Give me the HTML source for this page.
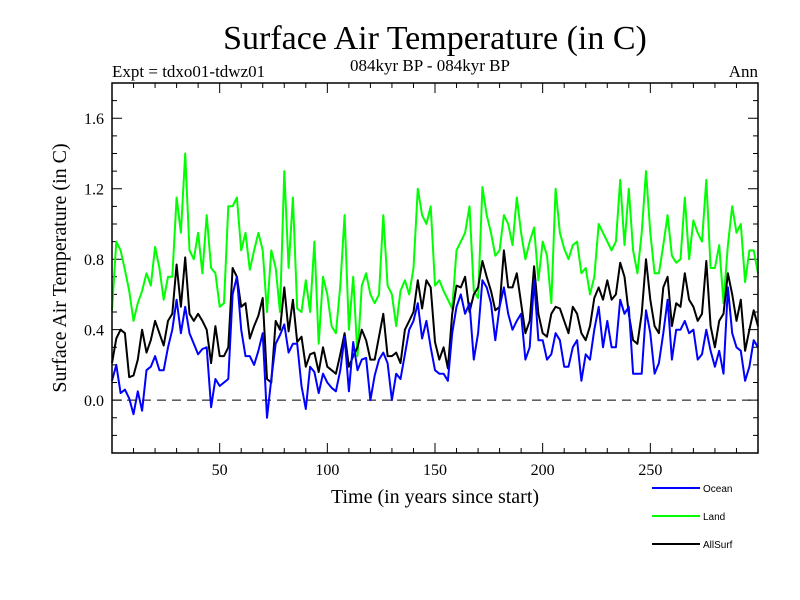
<!DOCTYPE html>
<html><head><meta charset="utf-8"><style>
body{margin:0;background:#fff;}
svg{display:block;}
.serif{font-family:"Liberation Serif",serif;}
.sans{font-family:"Liberation Sans",sans-serif;}
</style></head><body>
<svg id="chart" width="800" height="600" xmlns="http://www.w3.org/2000/svg">
<rect width="800" height="600" fill="#fff"/>
<text class="serif" x="435" y="49" font-size="34" text-anchor="middle">Surface Air Temperature (in C)</text>
<text class="serif" x="112" y="77" font-size="17">Expt = tdxo01-tdwz01</text>
<text class="serif" x="430" y="71" font-size="17" text-anchor="middle">084kyr BP - 084kyr BP</text>
<text class="serif" x="758" y="77" font-size="17" text-anchor="end">Ann</text>
<text class="serif" font-size="20" text-anchor="middle" transform="translate(66,268) rotate(-90)">Surface Air Temperature (in C)</text>
<text class="serif" x="435" y="503" font-size="20" text-anchor="middle">Time (in years since start)</text>
<g id="axes"></g>
<g id="series"></g>
<rect x="112" y="83" width="646" height="370" fill="none" stroke="#000" stroke-width="1.5"/>
<g id="legend"></g>
</svg>
<script>
const years=[];for(let y=0;y<=300;y+=2)years.push(y);
const green=[.51,.90,.85,.74,.62,.45,.55,.62,.72,.65,.87,.75,.57,.70,.70,1.15,.95,1.40,.85,.80,.95,.72,1.05,.75,.72,.53,.55,1.10,1.10,1.15,.85,.95,.74,.85,.95,.85,.50,.85,.75,
.50,1.30,.75,1.15,.52,.50,.68,.50,.90,.32,.70,.60,.42,.38,.65,1.05,.40,.70,.25,.65,.72,.60,.55,.60,1.05,.65,.60,.42,.62,.68,.60,.75,1.20,1.05,1.00,1.10,.65,
.68,.62,.57,.52,.85,.90,.95,1.10,.62,.58,1.21,1.05,.95,.82,.85,1.05,1.00,.88,1.15,.95,.80,.90,.98,.68,.90,.82,.55,1.20,.95,.86,.80,.88,.90,.72,.75,.60,.70,1.00,
.95,.90,.85,.90,1.25,.88,1.20,.85,.72,.95,1.30,.95,.72,.72,.88,1.05,.82,.78,.80,1.15,.80,1.02,.95,.90,1.25,.75,.75,.88,.55,.88,1.10,.95,1.00,.67,.85,.85,.72];
const black=[.21,.35,.40,.38,.13,.14,.23,.40,.27,.34,.45,.38,.31,.45,.49,.77,.53,.81,.49,.45,.49,.45,.40,.21,.42,.25,.25,.30,.75,.70,.53,.55,.35,.42,.48,.58,.12,.10,.45,
.40,.64,.39,.57,.33,.36,.19,.26,.27,.16,.30,.19,.17,.15,.26,.38,.19,.25,.30,.40,.34,.23,.23,.36,.49,.25,.25,.27,.21,.40,.45,.50,.68,.52,.68,.64,.33,
.23,.30,.18,.49,.65,.64,.70,.50,.60,.64,.79,.70,.62,.51,.53,.85,.64,.64,.72,.55,.38,.45,.76,.49,.38,.36,.49,.53,.52,.45,.38,.53,.49,.38,.34,.42,.58,.64,
.57,.68,.57,.60,.78,.70,.49,.34,.32,.49,.80,.57,.42,.38,.64,.70,.42,.55,.53,.72,.57,.53,.45,.49,.79,.42,.30,.45,.49,.72,.60,.45,.57,.28,.40,.51,.42];
const blue=[.11,.20,.04,.06,.01,-.08,.05,-.06,.17,.19,.25,.17,.17,.30,.40,.57,.38,.53,.38,.32,.26,.29,.30,-.04,.12,.08,.10,.12,.60,.70,.40,.25,.25,.20,.28,.38,-.10,.12,.32,
.37,.43,.27,.32,.32,.08,-.05,.19,.16,.04,.15,.10,.07,.05,.17,.36,.05,.33,.17,.23,.24,.00,.14,.23,.27,.21,.00,.15,.12,.26,.40,.45,.55,.35,.45,.30,.17,
.15,.15,.11,.38,.53,.60,.49,.55,.23,.38,.68,.64,.55,.34,.53,.64,.49,.40,.45,.49,.23,.30,.68,.34,.34,.23,.26,.38,.34,.19,.19,.30,.34,.11,.26,.23,.40,.53,
.30,.45,.30,.30,.57,.49,.53,.15,.15,.15,.51,.38,.15,.21,.38,.57,.23,.40,.40,.45,.38,.40,.23,.26,.40,.28,.19,.28,.15,.64,.38,.30,.28,.11,.19,.34,.30];
const xTicks=[50,100,150,200,250];
const yTicks=["0.0","0.4","0.8","1.2","1.6"];
const legendNames=["Ocean","Land","AllSurf"];
const legendColors=["#0000ff","#00ff00","#000000"];

const X0=112,X1=758,Y0=453,Y1=83,XMIN=0,XMAX=300,YMIN=-0.3,YMAX=1.8;
const sx=v=>X0+(v-XMIN)/(XMAX-XMIN)*(X1-X0);
const sy=v=>Y0-(v-YMIN)/(YMAX-YMIN)*(Y0-Y1);
const NS="http://www.w3.org/2000/svg";
function mk(t,a,p){const e=document.createElementNS(NS,t);for(const k in a)e.setAttribute(k,a[k]);p.appendChild(e);return e;}
const axes=document.getElementById('axes');
// x ticks
for(let v=10;v<300;v+=10){const maj=v%50===0,L=maj?10:5;
 const t=mk('path',{d:`M${sx(v)},${Y0}v${-L}M${sx(v)},${Y1}v${L}`,stroke:'#000','stroke-width':1},axes);
 }
xTicks.forEach(v=>{const t=mk('text',{x:sx(v),y:475,'font-size':16,'text-anchor':'middle',class:'serif'},axes);t.textContent=v;
 });
// y ticks
for(let i=-2;i<=17;i++){const v=i/10,maj=i%4===0,L=maj?10:5;
 const t=mk('path',{d:`M${X0},${sy(v)}h${L}M${X1},${sy(v)}h${-L}`,stroke:'#000','stroke-width':1},axes);
 }
yTicks.forEach(s=>{const t=mk('text',{x:104,y:sy(parseFloat(s))+6,'font-size':16,'text-anchor':'end',class:'serif'},axes);t.textContent=s;
 });
const zl=mk('line',{x1:X0,x2:X1,y1:sy(0),y2:sy(0),stroke:'#000','stroke-width':1,'stroke-dasharray':'9,6'},axes);


const sg=document.getElementById('series');
function line(vals,color,name){const d=vals.map((v,i)=>(i?'L':'M')+sx(years[i]).toFixed(1)+','+sy(v).toFixed(1)).join('');
 const p=mk('path',{d:d,fill:'none',stroke:color,'stroke-width':2,'stroke-linejoin':'round'},sg);
 }
line(green,'#00ff00','land-line');
line(black,'#000000','allsurf-line');
line(blue,'#0000ff','ocean-line');
const lg=document.getElementById('legend');
legendNames.forEach((n,i)=>{const y=488+i*28;
 const l=mk('line',{x1:652,x2:700,y1:y,y2:y,stroke:legendColors[i],'stroke-width':2},lg);
 
 const t=mk('text',{x:703,y:y+4,'font-size':10,class:'sans'},lg);t.textContent=n;
 });
</script>
</body></html>
